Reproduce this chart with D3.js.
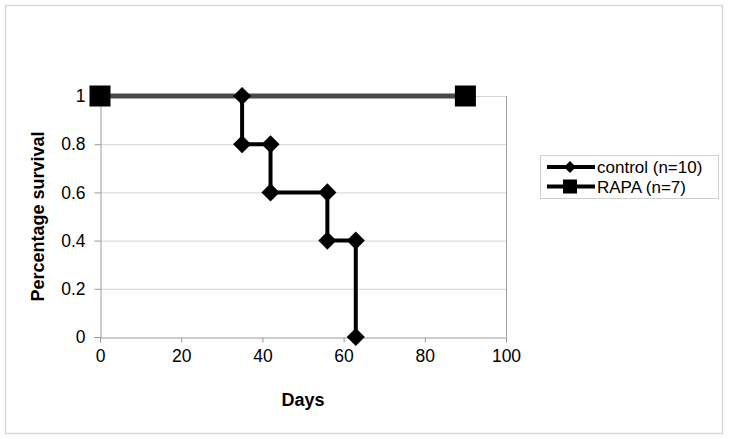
<!DOCTYPE html>
<html>
<head>
<meta charset="utf-8">
<script src="https://cdn.jsdelivr.net/npm/d3@7"></script>
<style>
  body { margin: 0; background: #fff; }
  svg { font-family: Arial, "Liberation Sans", sans-serif; }
</style>
</head>
<body>
<div id="chart"></div>
<script>
// survival data (Kaplan-Meier style steps)
let controlDays = [35, 35, 42, 42, 56, 56, 63, 63];
let controlSurv = [1, 0.8, 0.8, 0.6, 0.6, 0.4, 0.4, 0];
let rapaDays = [0, 90];
let rapaSurv = [1, 1];
let seriesNames = ["control (n=10)", "RAPA (n=7)"];
let xTicks = [0, 20, 40, 60, 80, 100];
let yTicks = [0, 0.2, 0.4, 0.6, 0.8, 1];

let W = 729, H = 439;
let margin = {left: 100, right: 223, top: 96, bottom: 102};

let svg = d3.select("#chart").append("svg")
    .attr("width", W)
    .attr("height", H);

// outer chart border
svg.append("rect")
    .attr("x", 5.5).attr("y", 5.5)
    .attr("width", 717).attr("height", 428)
    .attr("fill", "none")
    .attr("stroke", "#d9d9d9")
    .attr("stroke-width", 1.5);

let x = d3.scaleLinear().domain([0, 100]).range([margin.left, W - margin.right]);
let y = d3.scaleLinear().domain([0, 1]).range([H - margin.bottom, margin.top]);

// gridlines
svg.append("g").selectAll("line")
    .data(yTicks.slice(1))
    .enter().append("line")
    .attr("x1", x(0)).attr("x2", x(100))
    .attr("y1", d => y(d) + 0.5).attr("y2", d => y(d) + 0.5)
    .attr("stroke", "#d4d4d4");

// right side of plot frame
svg.append("line")
    .attr("x1", x(100) + 0.5).attr("x2", x(100) + 0.5)
    .attr("y1", y(1)).attr("y2", y(0))
    .attr("stroke", "#a0a0a0");

let xAxis = svg.append("g")
    .attr("transform", `translate(0, ${y(0) + 0.5})`)
    .call(d3.axisBottom(x).tickValues(xTicks).tickSize(5).tickPadding(7));
let yAxis = svg.append("g")
    .attr("transform", `translate(${x(0) + 0.5}, 0)`)
    .call(d3.axisLeft(y).tickValues(yTicks).tickSize(6).tickPadding(9).tickFormat(d3.format("")));

[xAxis, yAxis].forEach(a => {
    a.attr("font-size", 17.5).attr("font-family", null);
    a.select(".domain").attr("stroke", "#9a9a9a");
    a.selectAll(".tick line").attr("stroke", "#9a9a9a");
    a.selectAll("text").attr("fill", "#000");
});

// axis titles
svg.append("text")
    .attr("x", x(50)).attr("y", 406)
    .attr("text-anchor", "middle")
    .attr("font-size", 18).attr("font-weight", "bold")
    .text("Days");
svg.append("text")
    .attr("transform", `translate(44, ${y(0.5)}) rotate(-90)`)
    .attr("text-anchor", "middle")
    .attr("font-size", 18).attr("font-weight", "bold")
    .text("Percentage survival");

let line = d3.line().x(d => x(d[0])).y(d => y(d[1]));
let diamond = d3.symbol().type(d3.symbolDiamond2).size(210);

// RAPA series
let rapa = rapaDays.map((d, i) => [d, rapaSurv[i]]);
svg.append("path")
    .datum(rapa)
    .attr("d", line)
    .attr("fill", "none")
    .attr("stroke", "#4a4a4a")
    .attr("stroke-width", 5);
svg.append("g").selectAll("rect")
    .data(rapa)
    .enter().append("rect")
    .attr("x", d => x(d[0]) - 10.5).attr("y", d => y(d[1]) - 10.5)
    .attr("width", 21).attr("height", 21)
    .attr("fill", "#000");

// control series
let control = controlDays.map((d, i) => [d, controlSurv[i]]);
svg.append("path")
    .datum(control)
    .attr("d", line)
    .attr("fill", "none")
    .attr("stroke", "#000")
    .attr("stroke-width", 4);
svg.append("g").selectAll("path")
    .data(control)
    .enter().append("path")
    .attr("d", diamond)
    .attr("transform", d => `translate(${x(d[0])}, ${y(d[1])})`)
    .attr("fill", "#000");

// legend
let lg = svg.append("g");
lg.append("rect")
    .attr("x", 540.5).attr("y", 155.5)
    .attr("width", 178).attr("height", 43)
    .attr("fill", "#fff")
    .attr("stroke", "#cfcfcf");
seriesNames.forEach((name, i) => {
    let ly = 167 + i * 19.5;
    lg.append("line")
        .attr("x1", 547).attr("x2", 595)
        .attr("y1", ly).attr("y2", ly)
        .attr("stroke", "#000").attr("stroke-width", 4);
    if (i === 0) {
        lg.append("path")
            .attr("d", d3.symbol().type(d3.symbolDiamond2).size(90))
            .attr("transform", `translate(570, ${ly})`)
            .attr("fill", "#000");
    } else {
        lg.append("rect")
            .attr("x", 563).attr("y", ly - 7)
            .attr("width", 14).attr("height", 14)
            .attr("fill", "#000");
    }
    lg.append("text")
        .attr("x", 597).attr("y", ly + 6)
        .attr("font-size", 17)
        .text(name);
});
</script>
</body>
</html>
